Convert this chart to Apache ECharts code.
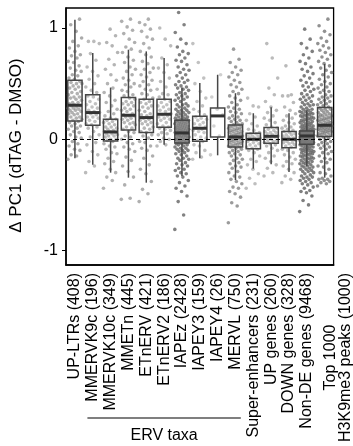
<!DOCTYPE html>
<html><head><meta charset="utf-8">
<script src="https://cdn.jsdelivr.net/npm/echarts@6/dist/echarts.min.js"></script>
<style>html,body{margin:0;padding:0;background:#fff}#c{width:353px;height:446px}</style>
</head><body><div id="c"></div>
<script>
// ---- data ----
const categories = ["UP-LTRs (408)","MMERVK9c (196)","MMERVK10c (349)","MMETn (445)","ETnERV (421)","ETnERV2 (186)","IAPEz (2428)","IAPEY3 (159)","IAPEY4 (26)","MERVL (750)","Super-enhancers (231)","UP genes (260)","DOWN genes (328)","Non-DE genes (9468)","Top 1000\nH3K9me3 peaks (1000)"];
const whiskerLow  = [-0.17,-0.23,-0.30,-0.345,-0.39,-0.05,-0.33,-0.17,-0.144,-0.366,-0.264,-0.225,-0.294,-0.24,-0.345];
const q1          = [0.165,0.126,-0.015,0.084,0.06,0.108,-0.033,-0.018,0.021,-0.069,-0.084,-0.036,-0.075,-0.045,0.024];
const median      = [0.306,0.24,0.066,0.216,0.195,0.225,0.057,0.099,0.21,0.021,0.0,0.027,0.0,0.03,0.126];
const q3          = [0.53,0.40,0.18,0.375,0.36,0.36,0.171,0.207,0.282,0.129,0.054,0.105,0.069,0.075,0.285];
const whiskerHigh = [1.075,0.775,0.465,0.805,0.79,0.73,0.465,0.505,0.58,0.414,0.234,0.288,0.234,0.261,0.676];
const yTicks = [-1, 0, 1];
const groupLabel = "ERV taxa";
const groupFirst = 1, groupLast = 9;

const ptsUpLtrs = [-0.18,-0.15,-0.14,-0.1,-0.09,-0.06,-0.04,-0.02,0.01,0.02,0.04,0.06,0.07,0.09,0.1,0.12,0.12,0.14,0.15,0.16,0.17,0.18,0.19,0.2,0.2,0.22,0.23,0.23,0.24,0.25,0.26,0.26,0.27,0.28,0.28,0.29,0.3,0.3,0.31,0.32,0.33,0.33,0.35,0.36,0.37,0.38,0.38,0.4,0.41,0.42,0.43,0.45,0.46,0.47,0.48,0.5,0.5,0.51,0.52,0.54,0.55,0.57,0.58,0.61,0.62,0.64,0.66,0.69,0.7,0.73,0.75,0.76,0.79,0.82,0.84,0.88,0.91,0.97,1.03,1.08];
const ptsK9c = [-0.3,-0.24,-0.2,-0.14,-0.11,-0.05,-0.03,0.02,0.04,0.07,0.1,0.11,0.13,0.14,0.16,0.17,0.19,0.2,0.2,0.22,0.23,0.24,0.25,0.26,0.28,0.29,0.31,0.32,0.34,0.36,0.38,0.39,0.42,0.44,0.47,0.5,0.54,0.57,0.61,0.65,0.71,0.77,0.86,0.88,0.88];
const ptsK10c = [-0.44,-0.37,-0.34,-0.3,-0.27,-0.22,-0.2,-0.17,-0.13,-0.12,-0.09,-0.07,-0.06,-0.04,-0.02,-0.01,0.0,0.0,0.02,0.03,0.03,0.04,0.05,0.05,0.06,0.07,0.07,0.08,0.09,0.1,0.11,0.11,0.13,0.14,0.15,0.16,0.17,0.18,0.19,0.21,0.23,0.25,0.27,0.3,0.33,0.35,0.39,0.42,0.46,0.5,0.53,0.58,0.63,0.67,0.72,0.78,0.84,0.87,0.93,0.99];
const ptsMMETn = [-0.54,-0.53,-0.41,-0.34,-0.29,-0.24,-0.19,-0.16,-0.11,-0.09,-0.07,-0.04,-0.03,0.0,0.02,0.03,0.06,0.07,0.09,0.1,0.11,0.13,0.14,0.15,0.15,0.17,0.18,0.19,0.2,0.21,0.21,0.22,0.23,0.25,0.26,0.27,0.28,0.3,0.31,0.32,0.33,0.34,0.36,0.37,0.39,0.4,0.43,0.44,0.47,0.49,0.5,0.53,0.55,0.58,0.61,0.63,0.65,0.69,0.71,0.74,0.78,0.81,0.83,0.87,0.9,0.95,0.98,1.01,1.06,1.08];
const ptsETnERV = [-0.56,-0.49,-0.45,-0.38,-0.31,-0.27,-0.23,-0.17,-0.15,-0.1,-0.08,-0.06,-0.03,-0.02,0.01,0.03,0.04,0.06,0.07,0.09,0.1,0.11,0.13,0.14,0.15,0.16,0.17,0.18,0.19,0.2,0.21,0.22,0.23,0.25,0.26,0.28,0.29,0.3,0.32,0.33,0.34,0.36,0.37,0.4,0.41,0.44,0.45,0.48,0.49,0.52,0.53,0.56,0.58,0.6,0.63,0.64,0.68,0.7,0.74,0.76,0.79,0.82,0.86,0.9,0.92,0.97,0.99,1.03,1.05,1.08];
const ptsETnERV2 = [-0.06,-0.05,-0.02,0.0,0.01,0.04,0.05,0.06,0.08,0.09,0.1,0.11,0.12,0.14,0.15,0.17,0.18,0.19,0.2,0.21,0.22,0.23,0.25,0.26,0.27,0.29,0.3,0.31,0.33,0.34,0.36,0.38,0.4,0.41,0.45,0.47,0.52,0.55,0.6,0.64,0.67,0.73,0.84,0.9,1.0];
const ptsIAPEz = [-0.81,-0.68,-0.56,-0.51,-0.47,-0.44,-0.42,-0.39,-0.37,-0.34,-0.33,-0.31,-0.3,-0.28,-0.27,-0.26,-0.24,-0.23,-0.22,-0.21,-0.19,-0.18,-0.17,-0.17,-0.15,-0.14,-0.13,-0.12,-0.11,-0.1,-0.1,-0.09,-0.08,-0.08,-0.07,-0.06,-0.05,-0.05,-0.04,-0.04,-0.03,-0.03,-0.02,-0.02,-0.02,-0.01,-0.01,0.0,0.0,0.0,0.01,0.01,0.01,0.02,0.02,0.02,0.03,0.03,0.03,0.03,0.04,0.04,0.04,0.05,0.05,0.05,0.05,0.06,0.06,0.06,0.06,0.07,0.07,0.07,0.08,0.08,0.09,0.09,0.09,0.1,0.1,0.1,0.11,0.11,0.12,0.12,0.12,0.13,0.13,0.14,0.14,0.14,0.15,0.15,0.16,0.16,0.16,0.17,0.17,0.17,0.18,0.18,0.19,0.19,0.2,0.2,0.21,0.22,0.22,0.23,0.24,0.24,0.25,0.26,0.26,0.27,0.28,0.29,0.3,0.31,0.31,0.32,0.34,0.35,0.36,0.37,0.38,0.39,0.4,0.41,0.42,0.44,0.45,0.46,0.47,0.48,0.49,0.51,0.52,0.53,0.55,0.57,0.58,0.6,0.62,0.63,0.65,0.67,0.7,0.71,0.73,0.76,0.77,0.79,0.83,0.86,0.9,0.96,1.03,1.14];
const ptsIAPEY3 = [-0.18,-0.16,-0.12,-0.1,-0.06,-0.05,-0.02,-0.01,0.01,0.02,0.04,0.06,0.07,0.08,0.09,0.1,0.11,0.13,0.14,0.15,0.17,0.18,0.19,0.2,0.22,0.25,0.27,0.3,0.34,0.37,0.43,0.5,0.55,0.69,0.86];
const ptsIAPEY4 = [-0.14,0.03,0.12,0.22,0.27,0.38,0.58];
const ptsMERVL = [-0.75,-0.6,-0.57,-0.52,-0.49,-0.47,-0.44,-0.43,-0.4,-0.38,-0.36,-0.34,-0.33,-0.3,-0.29,-0.26,-0.25,-0.24,-0.22,-0.21,-0.19,-0.18,-0.17,-0.15,-0.14,-0.13,-0.12,-0.11,-0.1,-0.09,-0.08,-0.07,-0.07,-0.06,-0.06,-0.05,-0.05,-0.04,-0.04,-0.03,-0.03,-0.02,-0.02,-0.01,-0.01,0.0,0.0,0.0,0.01,0.01,0.01,0.02,0.02,0.02,0.03,0.03,0.04,0.04,0.05,0.05,0.06,0.06,0.07,0.07,0.08,0.08,0.09,0.09,0.1,0.1,0.11,0.11,0.12,0.12,0.13,0.13,0.14,0.15,0.16,0.17,0.18,0.19,0.2,0.21,0.23,0.24,0.25,0.27,0.28,0.29,0.31,0.33,0.35,0.37,0.39,0.41,0.43,0.45,0.47,0.49,0.51,0.53,0.56,0.58,0.6,0.62,0.65,0.69,0.72,0.81];
const ptsSuperEnh = [-0.44,-0.4,-0.35,-0.31,-0.27,-0.23,-0.2,-0.18,-0.15,-0.12,-0.1,-0.09,-0.08,-0.07,-0.06,-0.05,-0.04,-0.03,-0.02,-0.01,0.0,0.01,0.01,0.02,0.03,0.03,0.04,0.05,0.05,0.06,0.08,0.09,0.12,0.14,0.17,0.2,0.23,0.29,0.3,0.37];
const ptsUpGenes = [-0.33,-0.3,-0.26,-0.23,-0.2,-0.17,-0.15,-0.12,-0.1,-0.08,-0.06,-0.05,-0.04,-0.03,-0.02,-0.01,-0.01,0.0,0.01,0.02,0.02,0.03,0.04,0.05,0.06,0.06,0.07,0.08,0.09,0.1,0.11,0.13,0.15,0.17,0.19,0.21,0.24,0.26,0.29,0.34,0.4,0.46,0.55,0.73,0.86];
const ptsDownGenes = [-0.39,-0.36,-0.33,-0.3,-0.27,-0.24,-0.22,-0.2,-0.18,-0.16,-0.14,-0.12,-0.1,-0.09,-0.07,-0.06,-0.05,-0.04,-0.03,-0.03,-0.02,-0.01,0.0,0.01,0.01,0.02,0.03,0.04,0.04,0.05,0.06,0.07,0.08,0.09,0.1,0.11,0.12,0.14,0.15,0.17,0.19,0.21,0.23,0.26,0.29,0.33,0.39,0.39,0.4,0.66];
const ptsNonDE = [-0.65,-0.59,-0.55,-0.51,-0.48,-0.47,-0.46,-0.44,-0.43,-0.41,-0.4,-0.39,-0.38,-0.37,-0.36,-0.35,-0.34,-0.34,-0.33,-0.32,-0.31,-0.3,-0.29,-0.29,-0.28,-0.27,-0.27,-0.26,-0.25,-0.25,-0.24,-0.24,-0.23,-0.22,-0.22,-0.21,-0.21,-0.2,-0.2,-0.19,-0.18,-0.18,-0.17,-0.17,-0.16,-0.16,-0.15,-0.15,-0.14,-0.14,-0.13,-0.13,-0.12,-0.12,-0.11,-0.11,-0.1,-0.1,-0.1,-0.09,-0.09,-0.08,-0.08,-0.07,-0.07,-0.06,-0.06,-0.06,-0.05,-0.05,-0.04,-0.04,-0.04,-0.04,-0.035,-0.03,-0.03,-0.03,-0.03,-0.025,-0.02,-0.02,-0.02,-0.02,-0.015,-0.01,-0.01,-0.01,-0.01,-0.005,0.0,0.0,0.0,0.0,0.0,0.005,0.01,0.01,0.01,0.01,0.015,0.02,0.02,0.02,0.02,0.025,0.03,0.03,0.03,0.03,0.035,0.035,0.035,0.04,0.04,0.04,0.04,0.045,0.045,0.045,0.05,0.05,0.05,0.05,0.055,0.055,0.055,0.06,0.06,0.06,0.06,0.065,0.065,0.065,0.07,0.07,0.07,0.07,0.075,0.075,0.08,0.08,0.085,0.09,0.09,0.095,0.1,0.1,0.11,0.11,0.12,0.12,0.12,0.13,0.13,0.14,0.14,0.15,0.15,0.16,0.16,0.17,0.17,0.18,0.18,0.19,0.19,0.2,0.2,0.21,0.21,0.22,0.22,0.23,0.23,0.24,0.24,0.25,0.25,0.26,0.27,0.27,0.28,0.29,0.3,0.31,0.31,0.32,0.33,0.34,0.35,0.36,0.37,0.38,0.39,0.4,0.41,0.43,0.44,0.45,0.47,0.48,0.5,0.51,0.53,0.55,0.57,0.59,0.61,0.63,0.65,0.68,0.7,0.73,0.76,0.79,0.82,0.86,0.9,0.99];
const ptsH3K9 = [-0.42,-0.4,-0.39,-0.38,-0.37,-0.36,-0.36,-0.35,-0.33,-0.31,-0.3,-0.27,-0.25,-0.24,-0.21,-0.2,-0.18,-0.17,-0.15,-0.13,-0.12,-0.11,-0.09,-0.08,-0.07,-0.06,-0.05,-0.04,-0.03,-0.02,-0.01,0.0,0.01,0.02,0.03,0.03,0.04,0.04,0.05,0.05,0.06,0.06,0.07,0.07,0.08,0.08,0.08,0.09,0.09,0.1,0.1,0.1,0.11,0.11,0.11,0.12,0.12,0.12,0.13,0.13,0.13,0.14,0.14,0.15,0.15,0.16,0.16,0.17,0.17,0.18,0.18,0.19,0.19,0.2,0.2,0.21,0.21,0.22,0.22,0.23,0.24,0.24,0.25,0.26,0.27,0.27,0.28,0.29,0.3,0.31,0.32,0.33,0.34,0.35,0.36,0.37,0.38,0.39,0.4,0.42,0.43,0.44,0.46,0.47,0.49,0.5,0.52,0.54,0.56,0.58,0.6,0.62,0.64,0.66,0.68,0.7,0.72,0.74,0.76,0.78,0.8,0.82,0.84,0.86,0.88,0.91,0.94,0.97,1.02,1.08];
const pointSets = [ptsUpLtrs,ptsK9c,ptsK10c,ptsMMETn,ptsETnERV,ptsETnERV2,ptsIAPEz,ptsIAPEY3,ptsIAPEY4,ptsMERVL,ptsSuperEnh,ptsUpGenes,ptsDownGenes,ptsNonDE,ptsH3K9];

// ---- build ----
const FONT = "'Liberation Sans', Arial, Helvetica, sans-serif";
const JITTER = 0.8;
const scatterSeries = pointSets.map((arr, i) => {
  const alpha = Math.min(0.85, 0.3 + arr.length / 300); // denser clouds look darker
  return {
    type: 'scatter', xAxisIndex: 1, silent: true, z: 1, symbolSize: 3.6,
    itemStyle: {color: 'rgb(105,105,105)', opacity: alpha, borderWidth: 0},
    data: arr.map((v, k) => [i + (((k * 0.618034) % 1) - 0.5) * JITTER, v])
  };
});
const boxData = categories.map((c, i) => [i, whiskerLow[i], q1[i], median[i], q3[i], whiskerHigh[i]]);
const xData = categories.map(c => c.indexOf('\n') >= 0 ? {value: c, textStyle: {padding: [26, 0, 0, 0]}} : c);

const chart = echarts.init(document.getElementById('c'), null, {renderer: 'canvas'});
const GRID = {left: 62, top: 8, right: 18, bottom: 181};
chart.setOption({
  animation: false,
  backgroundColor: '#fff',
  grid: {left: GRID.left, top: GRID.top, right: GRID.right, bottom: GRID.bottom, show: true, borderColor: '#000', borderWidth: 1.3, backgroundColor: 'transparent'},
  xAxis: [{
    type: 'category', data: xData, boundaryGap: true,
    axisLine: {onZero: false, lineStyle: {color: '#000', width: 1.5}},
    axisTick: {alignWithLabel: true, length: 4, lineStyle: {color: '#000', width: 1}},
    axisLabel: {
      interval: 0, rotate: 90, margin: 8, color: '#000', fontSize: 16, fontFamily: FONT,
      formatter: v => v.indexOf('\n') >= 0 ? v.split('\n').map(s => '{c|' + s + '}').join('\n') : v,
      rich: {c: {align: 'center', fontSize: 16, fontFamily: FONT, color: '#000', lineHeight: 15}}
    },
    splitLine: {show: false}
  }, {
    type: 'value', min: -0.5, max: 14.5, show: false
  }],
  yAxis: {
    type: 'value', min: -1.13, max: 1.18,
    name: 'Δ PC1 (dTAG - DMSO)', nameLocation: 'middle', nameGap: 41,
    nameTextStyle: {color: '#000', fontSize: 17, fontFamily: FONT, padding: [0, 18, 0, 0]},
    axisLine: {show: true, onZero: false, lineStyle: {color: '#000', width: 1.5}},
    axisTick: {show: true, length: 4, customValues: yTicks, lineStyle: {color: '#000', width: 1}},
    axisLabel: {customValues: yTicks, color: '#000', fontSize: 16, fontFamily: FONT, margin: 8},
    splitLine: {show: false}
  },
  series: scatterSeries.concat([{
    type: 'custom', xAxisIndex: 0, data: boxData, z: 3, silent: true,
    encode: {x: 0, y: [1, 2, 3, 4, 5]},
    renderItem: function (params, api) {
      const i = api.value(0);
      const lo = api.coord([i, api.value(1)]);
      const b1 = api.coord([i, api.value(2)]);
      const md = api.coord([i, api.value(3)]);
      const b3 = api.coord([i, api.value(4)]);
      const hi = api.coord([i, api.value(5)]);
      const w = api.size([1, 0])[0] * 0.8;
      const x = lo[0];
      const stroke = '#474747';
      return {type: 'group', children: [
        {type: 'line', shape: {x1: x, y1: hi[1], x2: x, y2: b3[1]}, style: {stroke: stroke, lineWidth: 1.5}},
        {type: 'line', shape: {x1: x, y1: b1[1], x2: x, y2: lo[1]}, style: {stroke: stroke, lineWidth: 1.5}},
        {type: 'rect', shape: {x: x - w / 2, y: b3[1], width: w, height: b1[1] - b3[1]}, style: {fill: 'rgba(255,255,255,0.1)', stroke: stroke, lineWidth: 1.5}},
        {type: 'line', shape: {x1: x - w / 2, y1: md[1], x2: x + w / 2, y2: md[1]}, style: {stroke: '#333', lineWidth: 3}}
      ]};
    }
  }, {
    type: 'line', xAxisIndex: 0, data: [], z: 5, silent: true,
    markLine: {silent: true, symbol: ['none', 'none'], label: {show: false},
      lineStyle: {color: '#000', type: [4, 3], width: 1.2}, data: [{yAxis: 0}]}
  }])
});

// ERV taxa bracket under the axis labels, placed from the category scale
const xa = chart.convertToPixel({xAxisIndex: 1}, groupFirst - 0.3);
const xb = chart.convertToPixel({xAxisIndex: 1}, groupLast + 0.3);
chart.setOption({graphic: [
  {type: 'line', shape: {x1: xa, y1: 418, x2: xb, y2: 418}, style: {stroke: '#555', lineWidth: 1.5}},
  {type: 'text', x: (xa + xb) / 2, y: 436, style: {text: groupLabel, fontSize: 16, fontFamily: FONT, fill: '#000', align: 'center', verticalAlign: 'middle'}}
]});
</script>
</body></html>
